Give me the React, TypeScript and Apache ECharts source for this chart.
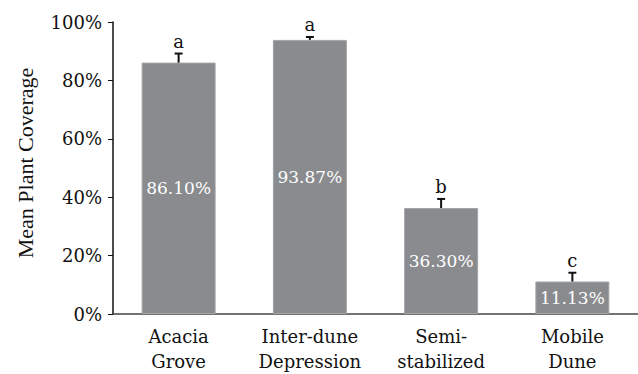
import React, { useEffect, useRef } from "react";
import * as echarts from "echarts";

const categories = ["Acacia\nGrove", "Inter-dune\nDepression", "Semi-\nstabilized", "Mobile\nDune"];
const means = [86.1, 93.87, 36.3, 11.13];
const errors = [3.1, 1.0, 3.1, 3.0];
const letters = ["a", "a", "b", "c"];
const yTicks = [0, 20, 40, 60, 80, 100];

const FONT = "'DejaVu Serif', 'Liberation Serif', serif";
const NAME_FONT = "'Liberation Serif', 'DejaVu Serif', serif";

export default function App() {
  const ref = useRef<HTMLDivElement>(null);
  useEffect(() => {
    const chart = echarts.init(ref.current!, null, { renderer: "svg" });
    const errData = means.map((m, i) => [i, m, errors[i], letters[i]]);
    chart.setOption({
      animation: false,
      grid: { left: 113, top: 22, width: 528, height: 297 },
      xAxis: {
        type: "category",
        data: categories,
        axisLine: { lineStyle: { color: "#444", width: 1.5 } },
        axisTick: { show: false },
        axisLabel: {
          fontFamily: FONT,
          fontSize: 18,
          lineHeight: 25,
          color: "#111",
          margin: 10,
          interval: 0,
        },
      },
      yAxis: {
        type: "value",
        min: yTicks[0],
        max: yTicks[yTicks.length - 1],
        interval: 20,
        name: "Mean Plant Coverage",
        nameLocation: "middle",
        nameRotate: 90,
        nameGap: 77,
        nameTextStyle: {
          fontFamily: NAME_FONT,
          fontSize: 22,
          color: "#111",
          padding: [0, 0, 0, 10],
        },
        axisLine: { show: true, lineStyle: { color: "#111", width: 1.5 } },
        axisTick: { show: true, length: 5, lineStyle: { color: "#111" } },
        splitLine: { show: false },
        axisLabel: {
          fontFamily: FONT,
          fontSize: 18,
          color: "#111",
          margin: 11,
          formatter: "{value}%",
        },
      },
      series: [
        {
          type: "bar",
          data: means,
          barWidth: 74,
          itemStyle: { color: "#898b8e", borderColor: "#a3a5a7", borderWidth: 1 },
          label: {
            show: true,
            position: "inside",
            color: "#fff",
            fontFamily: FONT,
            fontSize: 17,
            formatter: (p: any) => p.value.toFixed(2) + "%",
          },
        },
        {
          type: "custom",
          data: errData,
          z: 5,
          renderItem: (params: any, api: any) => {
            const i = api.value(0);
            const m = api.value(1);
            const e = api.value(2);
            const letter = letters[params.dataIndex];
            const base = api.coord([i, m]);
            const top = api.coord([i, m + e]);
            return {
              type: "group",
              children: [
                {
                  type: "line",
                  shape: { x1: base[0], y1: base[1], x2: top[0], y2: top[1] },
                  style: { stroke: "#111", lineWidth: 2 },
                },
                {
                  type: "line",
                  shape: { x1: top[0] - 4, y1: top[1], x2: top[0] + 4, y2: top[1] },
                  style: { stroke: "#111", lineWidth: 2 },
                },
                {
                  type: "text",
                  x: top[0],
                  y: top[1] - 3,
                  style: {
                    text: letter,
                    fontFamily: FONT,
                    fontSize: 18,
                    fill: "#111",
                    align: "center",
                    verticalAlign: "bottom",
                  },
                },
              ],
            };
          },
        },
      ],
    });
    return () => chart.dispose();
  }, []);
  return (
    <div
      ref={ref}
      style={{ position: "absolute", left: 0, top: 0, width: 638, height: 374, background: "#fff" }}
    />
  );
}
